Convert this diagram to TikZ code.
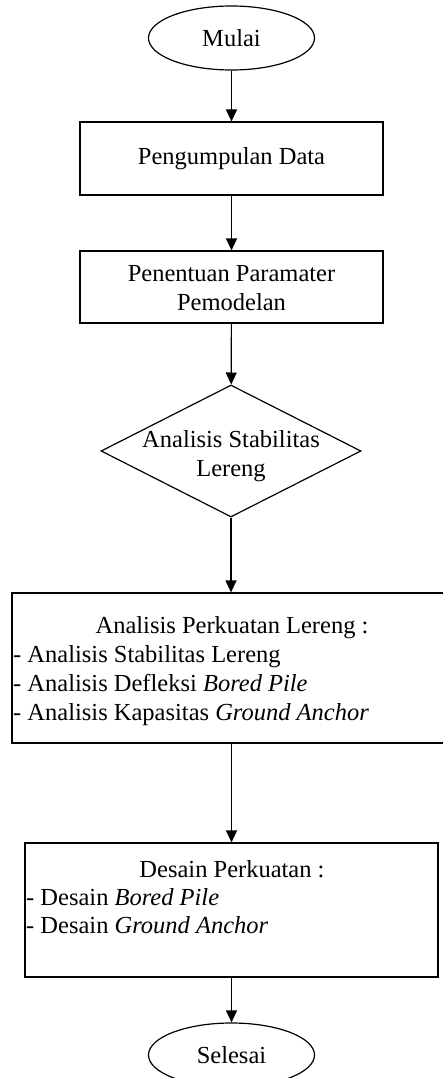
\documentclass[tikz,border=0pt]{standalone}
\usepackage{fontspec}
\setmainfont{Liberation Serif}
\usetikzlibrary{shapes.geometric,arrows.meta}
\begin{document}
\begin{tikzpicture}[x=1pt,y=-1pt,
  every node/.style={font=\fontsize{24.5}{29}\selectfont},
  line/.style={draw=black,line width=1.2pt},
  term/.style={line, ellipse, minimum width=166pt, minimum height=64pt, inner sep=0pt},
  proc/.style={line, rectangle, inner sep=0pt},
  deci/.style={line, diamond, inner sep=0pt, minimum width=260pt, minimum height=132pt},
  txt/.style={inner sep=0pt, anchor=base},
  item/.style={inner sep=0pt, anchor=base west},
  arr/.style={line width=1.2pt, -{Triangle[length=12pt,width=11pt]}}
]
\useasboundingbox (0,0) rectangle (442,1078);

\node[term] (mulai) at (231.5,38) {Mulai};
\node[proc, minimum width=303pt, minimum height=73pt] (data) at (231.5,158.5) {Pengumpulan Data};
\node[proc, minimum width=303pt, minimum height=72pt] (param) at (231.5,287) {};
\node[txt, align=center] (paramtxt) at (231.5,310) {Penentuan Paramater\\Pemodelan};
\node[deci] (stab) at (231,451) {};
\node[txt, align=center] (stabtxt) at (231,476) {Analisis Stabilitas\\Lereng};

\node[proc, minimum width=434pt, minimum height=150pt] (perk) at (229,668) {};
\node[txt] (perkt) at (232,633) {Analisis Perkuatan Lereng :};
\node[item] (perk1) at (13,662) {- Analisis Stabilitas Lereng};
\node[item] (perk2) at (13,691) {- Analisis Defleksi \textit{Bored Pile}};
\node[item] (perk3) at (13,720) {- Analisis Kapasitas \textit{Ground Anchor}};

\node[proc, minimum width=413pt, minimum height=134pt] (desain) at (231.5,910) {};
\node[txt] (desaint) at (232,877) {Desain Perkuatan :};
\node[item] (desain1) at (26,905) {- Desain \textit{Bored Pile}};
\node[item] (desain2) at (26,933) {- Desain \textit{Ground Anchor}};

\node[term] (selesai) at (231.5,1055) {Selesai};

\draw[arr] (mulai) -- (data);
\draw[arr] (data) -- (param);
\draw[arr] (param) -- (stab);
\draw[arr] (stab.south) -- (stab.south |- perk.north);
\draw[arr] (perk.south -| desain.north) -- (desain.north);
\draw[arr] (desain) -- (selesai);
\end{tikzpicture}
\end{document}
